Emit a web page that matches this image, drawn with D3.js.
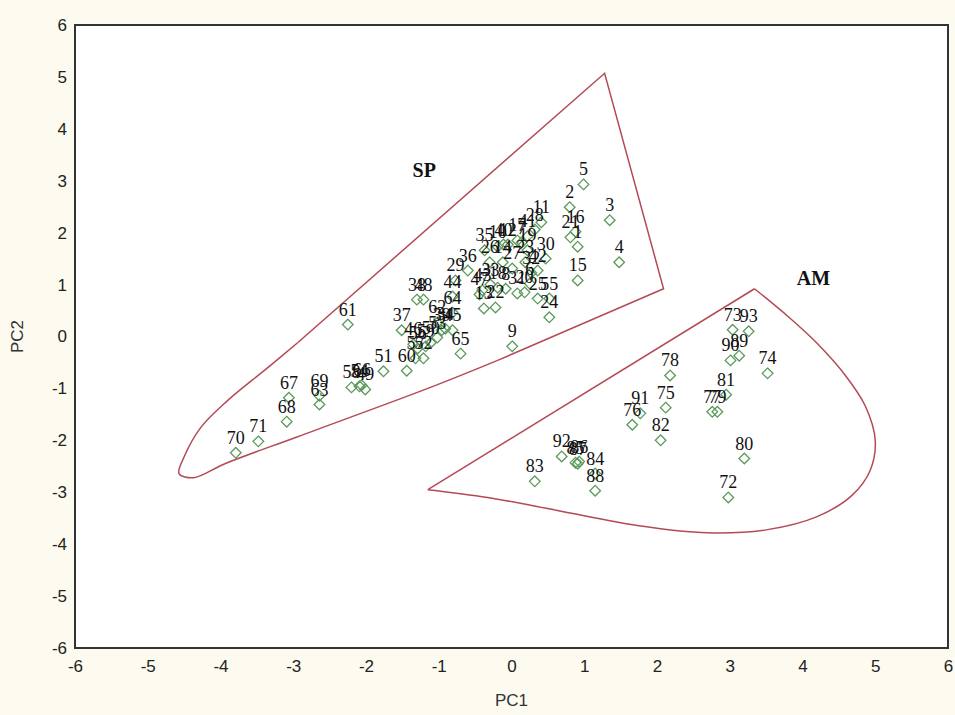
<!DOCTYPE html>
<html>
<head>
<meta charset="utf-8">
<script src="https://cdn.jsdelivr.net/npm/d3@7"></script>
<style>
  html, body { margin: 0; padding: 0; background: #fdfaf0; }
  svg { display: block; }
</style>
</head>
<body>
<svg id="chart" width="955" height="715"></svg>
<script>
// ---- Data ----
const labels = [
  "1","2","3","4","5","6","7","8","9","10","11","12","13","14","15","16","17","18","19","20",
  "21","22","23","24","25","26","27","28","29","30","31","32","33","34","35","36","37","38","39","40",
  "41","42","43","44","45","46","47","48","49","50","51","52","53","54","55","56","57","58","59","60",
  "61","62","63","64","65","66","67","68","69","70","71",
  "72","73","74","75","76","77","78","79","80","81","82","83","84","85","86","87","88","89","90","91","92","93"
];
const pc1 = [
  0.91,0.80,1.35,1.48,0.99,0.25,0.14,-0.08,0.01,-0.19,0.41,-0.05,-0.38,-0.12,0.91,0.88,0.08,-0.19,0.22,0.18,
  0.81,-0.22,0.19,0.52,0.36,-0.30,0.01,0.32,-0.77,0.47,0.08,0.27,-0.29,-0.91,-0.37,-0.60,-1.51,-1.30,-0.96,-0.11,
  0.22,0.36,-0.40,-0.81,-0.81,-1.35,-0.44,-1.21,-2.01,-1.11,-1.76,-1.21,-1.02,-2.09,0.52,-1.29,-1.32,-2.20,-1.18,-1.44,
  -2.25,-1.02,-2.64,-0.81,-0.70,-2.06,-3.06,-3.09,-2.64,-3.79,-3.48,
  2.98,3.04,3.52,2.12,1.66,2.76,2.18,2.83,3.20,2.95,2.05,0.32,1.15,0.88,0.93,0.91,1.15,3.13,3.01,1.77,0.69,3.26
];
const pc2 = [
  1.73,2.49,2.24,1.43,2.93,1.02,1.81,0.92,-0.19,1.73,2.20,1.77,0.54,1.43,1.08,2.02,1.85,0.94,1.66,0.85,
  1.91,0.56,1.43,0.37,0.73,1.43,1.31,2.06,1.08,1.50,0.83,1.23,1.00,0.15,1.66,1.27,0.12,0.71,0.12,1.77,
  1.93,1.27,0.89,0.77,0.12,-0.15,0.81,0.71,-1.02,-0.12,-0.67,-0.42,-0.02,-0.96,0.73,-0.23,-0.42,-0.98,-0.19,-0.66,
  0.23,0.27,-1.31,0.46,-0.33,-0.94,-1.18,-1.64,-1.14,-2.24,-2.02,
  -3.10,0.13,-0.71,-1.37,-1.70,-1.45,-0.75,-1.45,-2.35,-1.12,-2.00,-2.79,-2.64,-2.43,-2.41,-2.45,-2.97,-0.37,-0.46,-1.48,-2.31,0.10
];

// group outlines (in PC units)
const spLineX = [-2.94, 1.28, 2.09, -0.19];
const spLineY = [-0.12, 5.07, 0.92, -0.46];
const spCurveX = [-0.19, -1.15, -2.94, -3.94, -4.37, -4.57, -4.51, -4.27, -3.90, -3.35, -2.94];
const spCurveY = [-0.46, -1.00, -1.93, -2.45, -2.72, -2.64, -2.35, -1.75, -1.23, -0.60, -0.12];

const amLineX = [-1.15, 3.34];
const amLineY = [-2.95, 0.92];
const amCurveX = [3.34, 3.79, 4.20, 4.59, 4.86, 5.00, 4.93, 4.68, 4.20, 3.52, 2.69, 1.73, 0.63, -0.33, -1.15];
const amCurveY = [0.92, 0.40, -0.13, -0.75, -1.33, -2.00, -2.58, -3.06, -3.47, -3.72, -3.78, -3.64, -3.35, -3.10, -2.95];

const groupNames = ["SP", "AM"];
const groupLabelX = [-1.20, 4.15];
const groupLabelY = [3.07, 1.00];

const ticks = [-6,-5,-4,-3,-2,-1,0,1,2,3,4,5,6];

// ---- Layout ----
const W = 955, H = 715;
const margin = {left: 75, top: 25, right: 7, bottom: 67};
const svg = d3.select("#chart");

const x = d3.scaleLinear().domain([-6, 6]).range([margin.left, W - margin.right]);
const y = d3.scaleLinear().domain([-6, 6]).range([H - margin.bottom, margin.top]);

svg.append("rect").attr("width", W).attr("height", H).attr("fill", "#fdfaf0");
svg.append("rect")
  .attr("x", x(-6)).attr("y", y(6))
  .attr("width", x(6) - x(-6)).attr("height", y(-6) - y(6))
  .attr("fill", "#ffffff");

const tickFont = "'Liberation Sans Narrow', 'Liberation Sans', Arial, sans-serif";

// axes
const fmt = d => String(d);
const xAxis = d3.axisBottom(x).tickValues(ticks).tickSize(0).tickPadding(12).tickFormat(fmt);
const yAxis = d3.axisLeft(y).tickValues(ticks).tickSize(0).tickPadding(8).tickFormat(fmt);

const gx = svg.append("g").attr("transform", `translate(0,${y(-6)})`).call(xAxis);
const gy = svg.append("g").attr("transform", `translate(${x(-6)},0)`).call(yAxis);
[gx, gy].forEach(g => {
  g.select(".domain").remove();
  g.selectAll("text").attr("font-family", tickFont).attr("font-size", 17).attr("fill", "#222");
});
gx.selectAll("text").attr("text-anchor", "middle");

// outlines
const line = d3.line().x(d => x(d[0])).y(d => y(d[1]));
const curve = d3.line().x(d => x(d[0])).y(d => y(d[1])).curve(d3.curveCatmullRom.alpha(0.5));
const hullColor = "#b34a55";
const outlines = [
  {pts: d3.zip(spLineX, spLineY), gen: line},
  {pts: d3.zip(spCurveX, spCurveY), gen: curve},
  {pts: d3.zip(amLineX, amLineY), gen: line},
  {pts: d3.zip(amCurveX, amCurveY), gen: curve}
];
svg.append("g").selectAll("path").data(outlines).join("path")
  .attr("d", d => d.gen(d.pts))
  .attr("fill", "none").attr("stroke", hullColor).attr("stroke-width", 1.5);

// points
const pts = labels.map((l, i) => ({label: l, x: pc1[i], y: pc2[i]}));
const sym = d3.symbol().type(d3.symbolDiamond2).size(72);
svg.append("g").selectAll("path").data(pts).join("path")
  .attr("transform", d => `translate(${x(d.x)},${y(d.y)})`)
  .attr("d", sym)
  .attr("fill", "none").attr("stroke", "#5a9a5a").attr("stroke-width", 1.3);

svg.append("g").selectAll("text").data(pts).join("text")
  .attr("x", d => x(d.x))
  .attr("y", d => y(d.y) - 9)
  .attr("text-anchor", "middle")
  .attr("font-family", "'Liberation Serif', 'Times New Roman', serif")
  .attr("font-size", 18)
  .attr("fill", "#111")
  .text(d => d.label);

// group names
svg.append("g").selectAll("text").data(groupNames).join("text")
  .attr("x", (d, i) => x(groupLabelX[i]))
  .attr("y", (d, i) => y(groupLabelY[i]))
  .attr("text-anchor", "middle")
  .attr("font-family", "'Liberation Serif', 'Times New Roman', serif")
  .attr("font-weight", "bold")
  .attr("font-size", 20)
  .attr("fill", "#111")
  .text(d => d);

// frame
svg.append("rect")
  .attr("x", x(-6)).attr("y", y(6))
  .attr("width", x(6) - x(-6)).attr("height", y(-6) - y(6))
  .attr("fill", "none").attr("stroke", "#333").attr("stroke-width", 2);

// axis titles
svg.append("text")
  .attr("x", (x(-6) + x(6)) / 2).attr("y", 706)
  .attr("text-anchor", "middle")
  .attr("font-family", tickFont).attr("font-size", 17).attr("fill", "#333")
  .text("PC1");
svg.append("text")
  .attr("transform", `translate(23,${(y(-6) + y(6)) / 2}) rotate(-90)`)
  .attr("text-anchor", "middle")
  .attr("font-family", tickFont).attr("font-size", 17).attr("fill", "#333")
  .text("PC2");
</script>
</body>
</html>
